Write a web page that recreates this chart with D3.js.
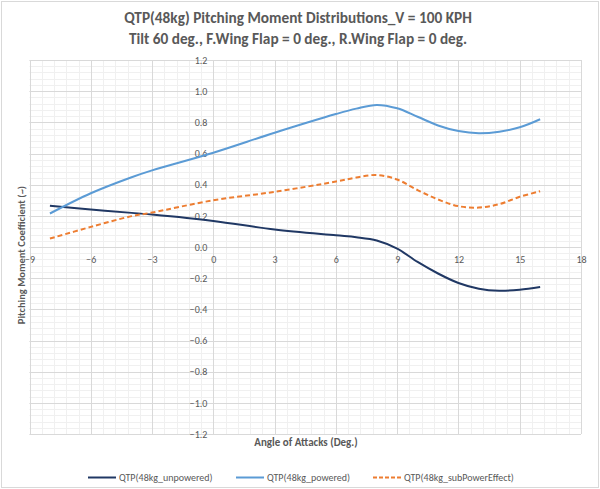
<!DOCTYPE html>
<html><head><meta charset="utf-8">
<script src="https://cdn.jsdelivr.net/npm/d3@7"></script>
<style>body{margin:0;background:#fff}svg{display:block}</style>
</head><body>
<script>
const titleLines = ["QTP(48kg) Pitching Moment Distributions_V = 100 KPH", "Tilt 60 deg., F.Wing Flap = 0 deg., R.Wing Flap = 0 deg."];
const xTicks = [-9,-6,-3,0,3,6,9,12,15,18];
const yTicks = [-1.2,-1.0,-0.8,-0.6,-0.4,-0.2,0.0,0.2,0.4,0.6,0.8,1.0,1.2];
const seriesNames = ["QTP(48kg_unpowered)", "QTP(48kg_powered)", "QTP(48kg_subPowerEffect)"];
const aoa = [-8,-6,-4,-3,0,3,6,7,8,9,10,11,12,13,14,15,16];
const unpowered = [0.264,0.240,0.219,0.208,0.167,0.112,0.075,0.063,0.042,-0.010,-0.096,-0.170,-0.231,-0.268,-0.281,-0.274,-0.257];
const powered = [0.215,0.345,0.448,0.492,0.605,0.733,0.853,0.888,0.912,0.890,0.836,0.780,0.744,0.730,0.740,0.768,0.820];
const subPower = [0.054,0.129,0.198,0.221,0.300,0.354,0.420,0.446,0.462,0.433,0.365,0.305,0.262,0.253,0.275,0.322,0.358];
const colors = ["#203864","#5b9bd5","#ed7d31"];

const W=600,H=489;
const svg=d3.select("body").append("svg").attr("width",W).attr("height",H);
svg.append("rect").attr("x",1.5).attr("y",1.5).attr("width",W-3).attr("height",H-3).attr("fill","#fff").attr("stroke","#d9d9d9");
const x=d3.scaleLinear().domain([-9,18]).range([29.5,581]);
const y=d3.scaleLinear().domain([-1.2,1.2]).range([434,60]);
const font="Calibri, Carlito, Lato, 'Open Sans', sans-serif";

// grid
const g=svg.append("g");
const xMinor=d3.range(-9,18.001,0.6), yMinor=d3.range(-1.2,1.2001,0.04);
g.selectAll(".xm").data(xMinor).join("line").attr("x1",d=>Math.round(x(d))+0.5).attr("x2",d=>Math.round(x(d))+0.5).attr("y1",y(1.2)).attr("y2",y(-1.2)).attr("stroke","#f0f0f0");
g.selectAll(".ym").data(yMinor).join("line").attr("y1",d=>Math.round(y(d))+0.5).attr("y2",d=>Math.round(y(d))+0.5).attr("x1",x(-9)).attr("x2",x(18)).attr("stroke","#f0f0f0");
g.selectAll(".xM").data(xTicks).join("line").attr("x1",d=>Math.round(x(d))+0.5).attr("x2",d=>Math.round(x(d))+0.5).attr("y1",y(1.2)).attr("y2",y(-1.2)).attr("stroke","#d9d9d9");
g.selectAll(".yM").data(yTicks).join("line").attr("y1",d=>Math.round(y(d))+0.5).attr("y2",d=>Math.round(y(d))+0.5).attr("x1",x(-9)).attr("x2",x(18)).attr("stroke","#d9d9d9");

// axes labels
const xAxis=d3.axisBottom(x).tickValues(xTicks).tickSize(0).tickFormat(d3.format("d"));
const xa=svg.append("g").attr("transform",`translate(0,${y(0)})`).call(xAxis);
xa.select(".domain").remove();
xa.selectAll("text").attr("dy","0.71em").attr("y",9).attr("fill","#595959").style("font-family",font).style("font-size","10px");
const yAxis=d3.axisLeft(y).tickValues(yTicks).tickSize(0).tickFormat(d3.format(".1f"));
const ya=svg.append("g").attr("transform",`translate(${x(0)-3},0)`).call(yAxis);
ya.select(".domain").remove();
ya.selectAll("text").attr("fill","#595959").style("font-family",font).style("font-size","10px");

// lines
const seriesData=[unpowered,powered,subPower];
const line=d3.line().x((d,i)=>x(aoa[i])).y(d=>y(d)).curve(d3.curveCatmullRom.alpha(0.5));
seriesData.forEach((s,k)=>{
  svg.append("path").attr("d",line(s)).attr("fill","none").attr("stroke",colors[k]).attr("stroke-width",2)
    .attr("stroke-dasharray",k===2?"5,3":null);
});

// titles
svg.selectAll(".title").data(titleLines).join("text").attr("x",298).attr("y",(d,i)=>23+i*21)
  .attr("text-anchor","middle").attr("fill","#595959").style("font-family",font).style("font-size","15.3px").style("font-weight","bold").text(d=>d);
svg.append("text").attr("x",306).attr("y",446).attr("text-anchor","middle").attr("fill","#595959")
  .style("font-family",font).style("font-size","11px").style("font-weight","bold").text("Angle of Attacks (Deg.)");
svg.append("text").attr("transform","translate(25,255) rotate(-90)").attr("text-anchor","middle").attr("fill","#595959")
  .style("font-family",font).style("font-size","10.5px").style("font-weight","bold").text("Pitching Moment Coefficient (~)");

// legend
const legX=[88,236,373];
seriesNames.forEach((n,k)=>{
  svg.append("line").attr("x1",legX[k]).attr("x2",legX[k]+28).attr("y1",477.5).attr("y2",477.5).attr("stroke",colors[k]).attr("stroke-width",2).attr("stroke-dasharray",k===2?"4,2":null);
  svg.append("text").attr("x",legX[k]+31).attr("y",481).attr("fill","#595959").style("font-family",font).style("font-size","10px").text(n);
});
</script>
</body></html>
